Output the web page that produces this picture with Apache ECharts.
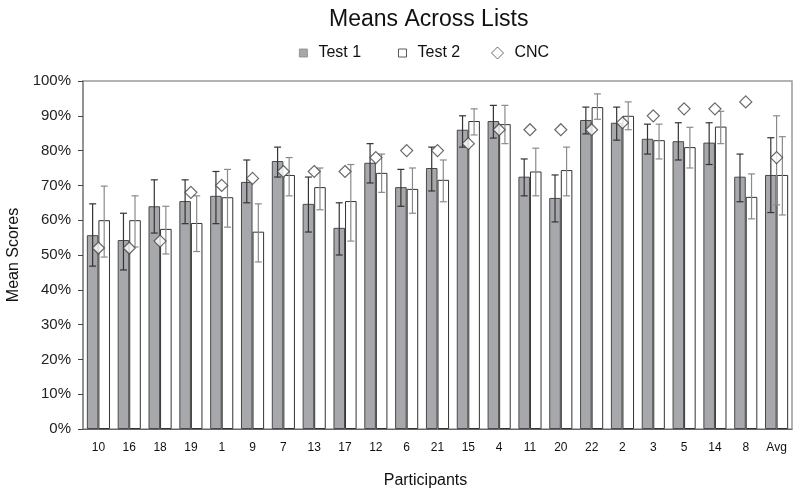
<!DOCTYPE html>
<html>
<head>
<meta charset="utf-8">
<script src="https://cdn.jsdelivr.net/npm/echarts@6/dist/echarts.min.js"></script>
<style>
  html, body { margin: 0; padding: 0; background: #fff; }
  #chart { width: 800px; height: 494px; }
</style>
</head>
<body>
<div id="chart"></div>
<script>
// participants in plotted order
const participants = ['10', '16', '18', '19', '1', '9', '7', '13', '17', '12', '6', '21', '15', '4', '11', '20', '22', '2', '3', '5', '14', '8', 'Avg']

// mean scores (%)
const test1 = [55.7, 54.3, 64, 65.5, 67, 71, 77, 64.7, 57.8, 76.5, 69.5, 75, 86, 88.5, 72.5, 66.4, 88.8, 88, 83.4, 82.7, 82.3, 72.5, 73]
const test2 = [60, 60, 57.5, 59.2, 66.6, 56.7, 73, 69.5, 65.5, 73.6, 69, 71.6, 88.5, 87.6, 74, 74.4, 92.5, 90, 83, 81, 86.9, 66.7, 73]
const cnc = [52, 52, 54, 68, 70, 72, 74, 74, 74, 78, 80, 80, 82, 86, 86, 86, 86, 88, 90, 92, 92, 94, 78]

// error bar ends (%)
const test1High = [64.7, 62, 71.6, 71.6, 74, 77.3, 81, 72.4, 65, 82, 74.6, 81, 90, 93, 77.6, 73, 92.5, 92.5, 87.6, 88, 88, 79, 83.7]
const test1Low = [46.8, 45.7, 56.3, 59, 59, 65, 72.4, 56.6, 50, 70.7, 64, 68.4, 81, 83.6, 67, 59.5, 84.8, 83, 79, 77.3, 76, 65.3, 62.2]
const test2High = [69.8, 67, 64, 67, 74.6, 64.7, 78, 75, 76, 79, 75, 77.3, 92, 93, 80.7, 81, 96.3, 94, 87.6, 86.7, 91.3, 73.3, 84]
const test2Low = [49.4, 52.3, 50.3, 51, 58, 48, 67, 63, 54, 68, 62, 65.3, 84.5, 82, 67, 67, 89, 86, 77.6, 75, 82, 60.4, 61.5]
// only the average has a CNC error bar
const cncHigh = [null, null, null, null, null, null, null, null, null, null, null, null, null, null, null, null, null, null, null, null, null, null, 90]
const cncLow = [null, null, null, null, null, null, null, null, null, null, null, null, null, null, null, null, null, null, null, null, null, null, 64.4]

const yTicks = [0, 10, 20, 30, 40, 50, 60, 70, 80, 90, 100]

const FONT = 'Liberation Sans, Arial, sans-serif'
const BAR_FRAC = 0.375

// 误差线 (custom series)
const errorSeries = (name, low, high, shift, color) => ({
  type: 'custom',
  name: name,
  silent: true,
  z: 5,
  encode: { x: 0, y: [1, 2] },
  data: low.map((lo, i) => (lo == null ? null : [i, lo, high[i]])).filter((d) => d),
  renderItem: (params, api) => {
    const i = api.value(0)
    const lo = api.coord([i, api.value(1)])
    const hi = api.coord([i, api.value(2)])
    const bw = api.size([1, 0])[0] * BAR_FRAC
    const cx = lo[0] + (shift * bw) / 2
    const cap = 3.5
    const style = { stroke: color, lineWidth: 1.2 }
    return {
      type: 'group',
      children: [
        { type: 'line', shape: { x1: cx, y1: lo[1], x2: cx, y2: hi[1] }, style },
        { type: 'line', shape: { x1: cx - cap, y1: lo[1], x2: cx + cap, y2: lo[1] }, style },
        { type: 'line', shape: { x1: cx - cap, y1: hi[1], x2: cx + cap, y2: hi[1] }, style }
      ]
    }
  }
})

const legendText = { fontFamily: FONT, fontSize: 16, color: '#111', padding: [0, 0, 0, 6] }

const chart = echarts.init(document.getElementById('chart'))

const option = {
  animation: false,
  textStyle: { fontFamily: FONT },
  title: {
    text: 'Means Across Lists',
    left: 329,
    top: 8,
    padding: 0,
    textStyle: { fontFamily: FONT, fontSize: 23, fontWeight: 'normal', color: '#111' }
  },
  legend: [
    {
      top: 45,
      left: 299,
      padding: 0,
      itemWidth: 8,
      itemHeight: 8,
      itemGap: 37,
      textStyle: legendText,
      itemStyle: { borderWidth: 0.8 },
      data: [
        { name: 'Test 1', icon: 'rect', itemStyle: { borderColor: '#888' } },
        { name: 'Test 2', icon: 'rect' }
      ]
    },
    {
      top: 45,
      left: 491,
      padding: 0,
      itemWidth: 12,
      itemHeight: 12,
      textStyle: legendText,
      itemStyle: { borderWidth: 1 },
      data: [{ name: 'CNC', icon: 'diamond' }]
    }
  ],
  grid: {
    left: 83,
    right: 8,
    top: 81,
    bottom: 65,
    outerBoundsMode: 'none',
    show: true,
    borderColor: '#9a9a9a',
    borderWidth: 1.5
  },
  xAxis: {
    type: 'category',
    data: participants,
    name: 'Participants',
    nameLocation: 'middle',
    nameGap: 44,
    nameTextStyle: { fontFamily: FONT, fontSize: 16, color: '#111', padding: [0, 24, 0, 0] },
    axisLine: { lineStyle: { color: '#666', width: 1 } },
    axisTick: { length: 5, lineStyle: { color: '#444' } },
    axisLabel: { interval: 0, fontFamily: FONT, fontSize: 12, color: '#111', margin: 13 }
  },
  yAxis: {
    type: 'value',
    min: yTicks[0],
    max: yTicks[yTicks.length - 1],
    interval: 10,
    name: 'Mean Scores',
    nameLocation: 'middle',
    nameRotate: 90,
    nameGap: 55,
    nameTextStyle: { fontFamily: FONT, fontSize: 16, color: '#111' },
    axisLine: { show: true, lineStyle: { color: '#888', width: 1.5 } },
    axisTick: { show: true, length: 5, lineStyle: { color: '#444' } },
    splitLine: { show: false },
    axisLabel: { fontFamily: FONT, fontSize: 15, color: '#222', margin: 12, formatter: '{value}%' }
  },
  series: [
    {
      name: 'Test 1',
      type: 'bar',
      data: test1,
      barWidth: BAR_FRAC * 100 + '%',
      barGap: '0%',
      itemStyle: { color: '#a7a8ab', borderColor: '#4a4a4a', borderWidth: 1 }
    },
    {
      name: 'Test 2',
      type: 'bar',
      data: test2,
      barWidth: BAR_FRAC * 100 + '%',
      barGap: '0%',
      itemStyle: { color: '#ffffff', borderColor: '#333', borderWidth: 1 }
    },
    {
      name: 'CNC',
      type: 'scatter',
      data: cnc,
      symbol: 'diamond',
      symbolSize: 12,
      z: 6,
      itemStyle: { color: '#ffffff', borderColor: '#444', borderWidth: 1.2 }
    },
    errorSeries('Test 1 err', test1Low, test1High, -1, '#333'),
    errorSeries('Test 2 err', test2Low, test2High, 1, '#8a8a8a'),
    errorSeries('CNC err', cncLow, cncHigh, 0, '#8a8a8a')
  ]
}

chart.setOption(option)
</script>
</body>
</html>
